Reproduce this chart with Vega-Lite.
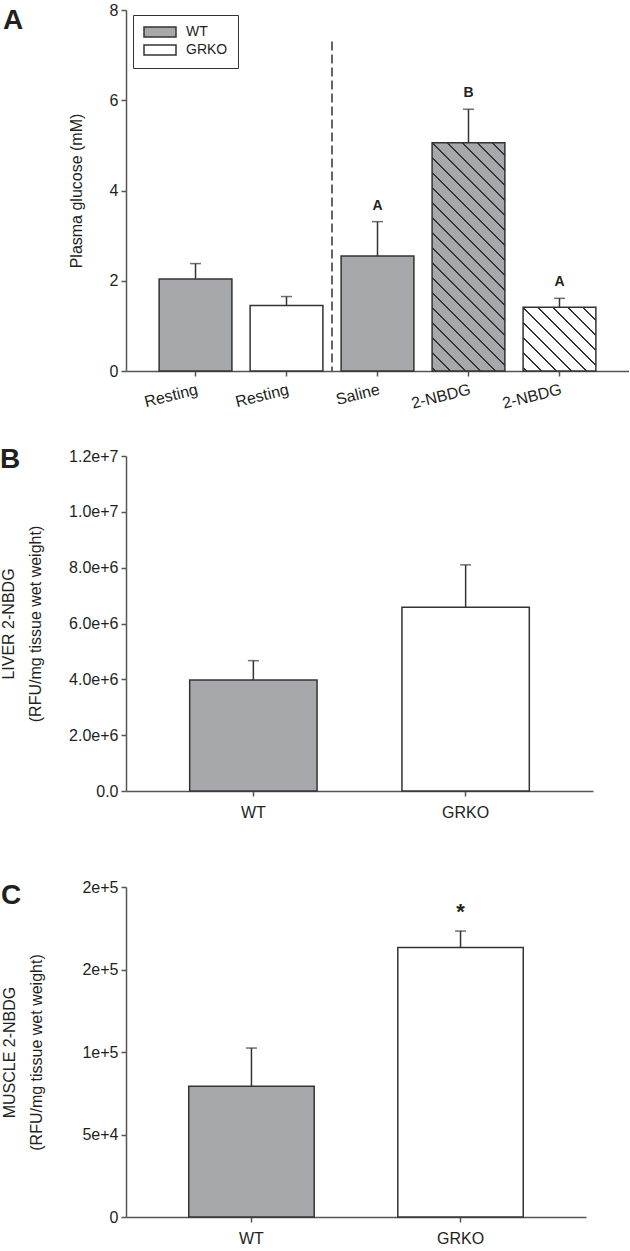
{
"$schema": "https://vega.github.io/schema/vega-lite/v6.json",
"padding": {"left": 0, "top": 2, "right": 0, "bottom": 0},
"background": "white",
"spacing": 34,
"resolve": {"scale": {"color": "independent"}, "legend": {"color": "independent"}},
"config": {
  "font": "Liberation Sans",
  "view": {"stroke": null},
  "axis": {"domainColor": "#555555", "domainWidth": 1.5, "tickColor": "#555555", "tickWidth": 1.5, "tickSize": 5, "labelFont": "Liberation Sans", "labelFontSize": 16, "labelColor": "#231f20", "titleFont": "Liberation Sans", "titleFontSize": 16, "titleFontWeight": "normal", "titleColor": "#231f20", "grid": false, "labelPadding": 3},
  "title": {"font": "Liberation Sans", "fontSize": 28, "fontWeight": "bold", "color": "#231f20"},
  "text": {"font": "Liberation Sans"}
},
"vconcat": [
{
  "width": 503, "height": 361,
  "title": {"text": "A", "anchor": "start", "frame": "group", "dx": -123, "offset": -33},
  "data": {"values": [
    {"cond": "Resting WT", "group": "WT", "glucose": 2.04, "upper": 2.38, "sig": ""},
    {"cond": "Resting GRKO", "group": "GRKO", "glucose": 1.45, "upper": 1.65, "sig": ""},
    {"cond": "Saline WT", "group": "WT", "glucose": 2.55, "upper": 3.31, "sig": "A"},
    {"cond": "2-NBDG WT", "group": "WT", "glucose": 5.06, "upper": 5.80, "sig": "B"},
    {"cond": "2-NBDG GRKO", "group": "GRKO", "glucose": 1.41, "upper": 1.61, "sig": "A"}
  ]},
  "encoding": {
    "x": {"field": "cond", "type": "nominal", "sort": null, "scale": {"paddingInner": 0.2, "paddingOuter": 0.364},
          "axis": {"title": null, "labelExpr": "split(datum.label, ' ')[0]", "labelAngle": -14, "labelAlign": "right", "labelBaseline": "top", "labelPadding": 5}}
  },
  "layer": [
    {"mark": {"type": "bar", "stroke": "#333333", "strokeWidth": 1.5},
     "encoding": {
       "y": {"field": "glucose", "type": "quantitative", "scale": {"domain": [0, 8], "nice": false}, "axis": {"values": [0, 2, 4, 6, 8], "title": "Plasma glucose (mM)", "titlePadding": 25}},
       "color": {"field": "group", "type": "nominal", "scale": {"domain": ["WT", "GRKO"], "range": ["#a7a8ab", "#ffffff"]},
         "legend": {"title": null, "orient": "none", "legendX": 7, "legendY": 5, "strokeColor": "#333333", "padding": 10, "fillColor": "white",
           "symbolType": "M-3.2,-1H3.2V1H-3.2Z", "symbolSize": 100, "symbolOffset": 10, "labelOffset": 19, "labelFontSize": 14, "labelColor": "#231f20", "rowPadding": 2,
           "encode": {"symbols": {"update": {"stroke": {"value": "#333333"}, "strokeWidth": {"value": 1.5}}}}}}
     }},
    {"transform": [{"filter": "datum.cond == '2-NBDG WT'"}],
     "mark": {"type": "bar", "strokeWidth": 0, "fill": {"gradient": "linear", "x1": 0, "y1": 1, "x2": 0.3817, "y2": -0.197, "stops": [
       {"offset": 0, "color": "rgba(0,0,0,0)"},
       {"offset": 0.00806, "color": "rgba(0,0,0,0)"}, {"offset": 0.00806, "color": "#333333"}, {"offset": 0.01406, "color": "#333333"}, {"offset": 0.01406, "color": "rgba(0,0,0,0)"},
       {"offset": 0.05787, "color": "rgba(0,0,0,0)"}, {"offset": 0.05787, "color": "#333333"}, {"offset": 0.06387, "color": "#333333"}, {"offset": 0.06387, "color": "rgba(0,0,0,0)"},
       {"offset": 0.10768, "color": "rgba(0,0,0,0)"}, {"offset": 0.10768, "color": "#333333"}, {"offset": 0.11368, "color": "#333333"}, {"offset": 0.11368, "color": "rgba(0,0,0,0)"},
       {"offset": 0.1575, "color": "rgba(0,0,0,0)"}, {"offset": 0.1575, "color": "#333333"}, {"offset": 0.1635, "color": "#333333"}, {"offset": 0.1635, "color": "rgba(0,0,0,0)"},
       {"offset": 0.20731, "color": "rgba(0,0,0,0)"}, {"offset": 0.20731, "color": "#333333"}, {"offset": 0.21331, "color": "#333333"}, {"offset": 0.21331, "color": "rgba(0,0,0,0)"},
       {"offset": 0.25712, "color": "rgba(0,0,0,0)"}, {"offset": 0.25712, "color": "#333333"}, {"offset": 0.26312, "color": "#333333"}, {"offset": 0.26312, "color": "rgba(0,0,0,0)"},
       {"offset": 0.30693, "color": "rgba(0,0,0,0)"}, {"offset": 0.30693, "color": "#333333"}, {"offset": 0.31293, "color": "#333333"}, {"offset": 0.31293, "color": "rgba(0,0,0,0)"},
       {"offset": 0.35675, "color": "rgba(0,0,0,0)"}, {"offset": 0.35675, "color": "#333333"}, {"offset": 0.36275, "color": "#333333"}, {"offset": 0.36275, "color": "rgba(0,0,0,0)"},
       {"offset": 0.40656, "color": "rgba(0,0,0,0)"}, {"offset": 0.40656, "color": "#333333"}, {"offset": 0.41256, "color": "#333333"}, {"offset": 0.41256, "color": "rgba(0,0,0,0)"},
       {"offset": 0.45637, "color": "rgba(0,0,0,0)"}, {"offset": 0.45637, "color": "#333333"}, {"offset": 0.46237, "color": "#333333"}, {"offset": 0.46237, "color": "rgba(0,0,0,0)"},
       {"offset": 0.50618, "color": "rgba(0,0,0,0)"}, {"offset": 0.50618, "color": "#333333"}, {"offset": 0.51218, "color": "#333333"}, {"offset": 0.51218, "color": "rgba(0,0,0,0)"},
       {"offset": 0.55599, "color": "rgba(0,0,0,0)"}, {"offset": 0.55599, "color": "#333333"}, {"offset": 0.56199, "color": "#333333"}, {"offset": 0.56199, "color": "rgba(0,0,0,0)"},
       {"offset": 0.60581, "color": "rgba(0,0,0,0)"}, {"offset": 0.60581, "color": "#333333"}, {"offset": 0.61181, "color": "#333333"}, {"offset": 0.61181, "color": "rgba(0,0,0,0)"},
       {"offset": 0.65562, "color": "rgba(0,0,0,0)"}, {"offset": 0.65562, "color": "#333333"}, {"offset": 0.66162, "color": "#333333"}, {"offset": 0.66162, "color": "rgba(0,0,0,0)"},
       {"offset": 0.70543, "color": "rgba(0,0,0,0)"}, {"offset": 0.70543, "color": "#333333"}, {"offset": 0.71143, "color": "#333333"}, {"offset": 0.71143, "color": "rgba(0,0,0,0)"},
       {"offset": 0.75524, "color": "rgba(0,0,0,0)"}, {"offset": 0.75524, "color": "#333333"}, {"offset": 0.76124, "color": "#333333"}, {"offset": 0.76124, "color": "rgba(0,0,0,0)"},
       {"offset": 0.80506, "color": "rgba(0,0,0,0)"}, {"offset": 0.80506, "color": "#333333"}, {"offset": 0.81106, "color": "#333333"}, {"offset": 0.81106, "color": "rgba(0,0,0,0)"},
       {"offset": 0.85487, "color": "rgba(0,0,0,0)"}, {"offset": 0.85487, "color": "#333333"}, {"offset": 0.86087, "color": "#333333"}, {"offset": 0.86087, "color": "rgba(0,0,0,0)"},
       {"offset": 0.90468, "color": "rgba(0,0,0,0)"}, {"offset": 0.90468, "color": "#333333"}, {"offset": 0.91068, "color": "#333333"}, {"offset": 0.91068, "color": "rgba(0,0,0,0)"},
       {"offset": 0.95449, "color": "rgba(0,0,0,0)"}, {"offset": 0.95449, "color": "#333333"}, {"offset": 0.96049, "color": "#333333"}, {"offset": 0.96049, "color": "rgba(0,0,0,0)"},
       {"offset": 1, "color": "rgba(0,0,0,0)"}
     ]}},
     "encoding": {"y": {"field": "glucose", "type": "quantitative"}}},
    {"transform": [{"filter": "datum.cond == '2-NBDG GRKO'"}],
     "mark": {"type": "bar", "strokeWidth": 0, "fill": {"gradient": "linear", "x1": 0, "y1": 1, "x2": 1.06243, "y2": 0.0714, "stops": [
       {"offset": 0, "color": "rgba(0,0,0,0)"},
       {"offset": 0.01961, "color": "rgba(0,0,0,0)"}, {"offset": 0.01961, "color": "#333333"}, {"offset": 0.03361, "color": "#333333"}, {"offset": 0.03361, "color": "rgba(0,0,0,0)"},
       {"offset": 0.12955, "color": "rgba(0,0,0,0)"}, {"offset": 0.12955, "color": "#333333"}, {"offset": 0.14355, "color": "#333333"}, {"offset": 0.14355, "color": "rgba(0,0,0,0)"},
       {"offset": 0.2395, "color": "rgba(0,0,0,0)"}, {"offset": 0.2395, "color": "#333333"}, {"offset": 0.2535, "color": "#333333"}, {"offset": 0.2535, "color": "rgba(0,0,0,0)"},
       {"offset": 0.34945, "color": "rgba(0,0,0,0)"}, {"offset": 0.34945, "color": "#333333"}, {"offset": 0.36345, "color": "#333333"}, {"offset": 0.36345, "color": "rgba(0,0,0,0)"},
       {"offset": 0.45939, "color": "rgba(0,0,0,0)"}, {"offset": 0.45939, "color": "#333333"}, {"offset": 0.47339, "color": "#333333"}, {"offset": 0.47339, "color": "rgba(0,0,0,0)"},
       {"offset": 0.56934, "color": "rgba(0,0,0,0)"}, {"offset": 0.56934, "color": "#333333"}, {"offset": 0.58334, "color": "#333333"}, {"offset": 0.58334, "color": "rgba(0,0,0,0)"},
       {"offset": 0.67928, "color": "rgba(0,0,0,0)"}, {"offset": 0.67928, "color": "#333333"}, {"offset": 0.69328, "color": "#333333"}, {"offset": 0.69328, "color": "rgba(0,0,0,0)"},
       {"offset": 0.78923, "color": "rgba(0,0,0,0)"}, {"offset": 0.78923, "color": "#333333"}, {"offset": 0.80323, "color": "#333333"}, {"offset": 0.80323, "color": "rgba(0,0,0,0)"},
       {"offset": 0.89918, "color": "rgba(0,0,0,0)"}, {"offset": 0.89918, "color": "#333333"}, {"offset": 0.91318, "color": "#333333"}, {"offset": 0.91318, "color": "rgba(0,0,0,0)"},
       {"offset": 1, "color": "rgba(0,0,0,0)"}
     ]}},
     "encoding": {"y": {"field": "glucose", "type": "quantitative"}}},
    {"mark": {"type": "rule", "color": "#333333", "strokeWidth": 1.5},
     "encoding": {"y": {"field": "glucose", "type": "quantitative"}, "y2": {"field": "upper"}}},
    {"mark": {"type": "tick", "color": "#333333", "thickness": 1.5, "size": 11, "orient": "horizontal"},
     "encoding": {"y": {"field": "upper", "type": "quantitative"}}},
    {"mark": {"type": "text", "dy": -12, "baseline": "alphabetic", "fontWeight": "bold", "fontSize": 14, "color": "#231f20"},
     "encoding": {"y": {"field": "upper", "type": "quantitative"}, "text": {"field": "sig"}}},
    {"data": {"values": [{}]},
     "mark": {"type": "rule", "strokeDash": [9, 4], "color": "#333333", "strokeWidth": 1.5},
     "encoding": {"x": {"datum": "Saline WT", "bandPosition": -0.125}, "y": {"datum": 7.3}, "y2": {"datum": 0}}}
  ]
},
{
  "width": 467, "height": 335,
  "title": {"text": "B", "anchor": "start", "frame": "group", "dx": -126, "offset": -26},
  "data": {"values": [
    {"genotype": "WT", "liver": 3980000, "upper": 4670000},
    {"genotype": "GRKO", "liver": 6580000, "upper": 8100000}
  ]},
  "encoding": {
    "x": {"field": "genotype", "type": "nominal", "sort": null, "scale": {"paddingInner": 0.4, "paddingOuter": 0.3},
          "axis": {"title": " ", "titlePadding": 9, "labelAngle": 0, "labelPadding": 8}}
  },
  "layer": [
    {"mark": {"type": "bar", "stroke": "#333333", "strokeWidth": 1.5},
     "encoding": {
       "y": {"field": "liver", "type": "quantitative", "scale": {"domain": [0, 12000000], "nice": false},
             "axis": {"values": [0, 2000000, 4000000, 6000000, 8000000, 10000000, 12000000], "labelExpr": "datum.value == 0 ? '0.0' : format(datum.value, '.1e')",
                      "title": ["LIVER 2-NBDG", "(RFU/mg tissue wet weight)"], "titleLineHeight": 27, "titlePadding": 25}},
       "color": {"field": "genotype", "type": "nominal", "scale": {"domain": ["WT", "GRKO"], "range": ["#a7a8ab", "#ffffff"]}, "legend": null}
     }},
    {"mark": {"type": "rule", "color": "#333333", "strokeWidth": 1.5},
     "encoding": {"y": {"field": "liver", "type": "quantitative"}, "y2": {"field": "upper"}}},
    {"mark": {"type": "tick", "color": "#333333", "thickness": 1.5, "size": 11, "orient": "horizontal"},
     "encoding": {"y": {"field": "upper", "type": "quantitative"}}}
  ]
},
{
  "width": 460, "height": 330,
  "title": {"text": "C", "anchor": "start", "frame": "group", "dx": -125, "offset": -30.6},
  "data": {"values": [
    {"genotype": "WT", "muscle": 79200, "upper": 102400, "sig": ""},
    {"genotype": "GRKO", "muscle": 163300, "upper": 173300, "sig": "*"}
  ]},
  "encoding": {
    "x": {"field": "genotype", "type": "nominal", "sort": null, "scale": {"paddingInner": 0.4, "paddingOuter": 0.3},
          "axis": {"title": null, "labelAngle": 0, "labelPadding": 8}}
  },
  "layer": [
    {"mark": {"type": "bar", "stroke": "#333333", "strokeWidth": 1.5},
     "encoding": {
       "y": {"field": "muscle", "type": "quantitative", "scale": {"domain": [0, 200000], "nice": false},
             "axis": {"values": [0, 50000, 100000, 150000, 200000], "labelExpr": "datum.value == 0 ? '0' : format(datum.value, '.0e')",
                      "title": ["MUSCLE 2-NBDG", "(RFU/mg tissue wet weight)"], "titleLineHeight": 27, "titlePadding": 37}},
       "color": {"field": "genotype", "type": "nominal", "scale": {"domain": ["WT", "GRKO"], "range": ["#a7a8ab", "#ffffff"]}, "legend": null}
     }},
    {"mark": {"type": "rule", "color": "#333333", "strokeWidth": 1.5},
     "encoding": {"y": {"field": "muscle", "type": "quantitative"}, "y2": {"field": "upper"}}},
    {"mark": {"type": "tick", "color": "#333333", "thickness": 1.5, "size": 11, "orient": "horizontal"},
     "encoding": {"y": {"field": "upper", "type": "quantitative"}}},
    {"mark": {"type": "text", "dy": -12, "baseline": "alphabetic", "fontWeight": "bold", "fontSize": 22, "color": "#231f20"},
     "encoding": {"y": {"field": "upper", "type": "quantitative"}, "text": {"field": "sig"}}}
  ]
}
]
}
